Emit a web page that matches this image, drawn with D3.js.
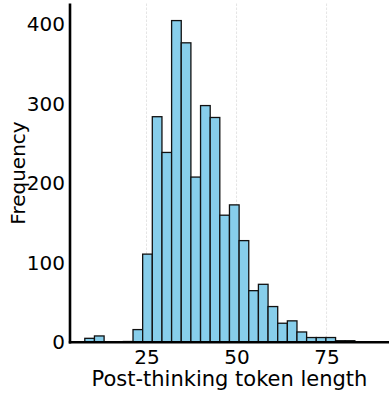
<!DOCTYPE html>
<html>
<head>
<meta charset="utf-8">
<script src="https://cdn.jsdelivr.net/npm/d3@7"></script>
<style>
  html, body { margin: 0; padding: 0; background: #fff; }
  svg { display: block; }
  text { font-family: "DejaVu Sans", sans-serif; fill: #000; }
</style>
</head>
<body>
<svg id="chart" width="389" height="394"></svg>
<script>
// Bin lower edges (token length) and the final upper edge
const binEdges = [7.86, 10.54, 13.22, 15.90, 18.58, 21.25, 23.93, 26.61, 29.29, 31.97,
  34.65, 37.33, 40.01, 42.69, 45.36, 48.04, 50.72, 53.40, 56.08, 58.76,
  61.44, 64.12, 66.79, 69.47, 72.15, 74.83, 77.51, 80.19, 82.87];
// Frequency per bin
const counts = [5, 8, 0, 0, 1, 16, 111, 284, 239, 405, 377, 208, 298, 283, 160,
  173, 128, 65, 73, 45, 24, 27, 13, 6, 6, 6, 2, 2];
const xTicks = [25, 50, 75];
const yTicks = [0, 100, 200, 300, 400];
const xLabel = "Post-thinking token length";
const yLabel = "Frequency";

(function () {
const bins = counts.map((c, i) => ({ x0: binEdges[i], x1: binEdges[i + 1], count: c }));

const svg = d3.select("#chart");
const mLeft = 70, mRight = 389, mTop = 3.5, mBottom = 342.3;

const x = d3.scaleLinear().domain([3.75, 92.35]).range([mLeft, mRight]);
const y = d3.scaleLinear().domain([0, 426.5]).range([mBottom, mTop]);

// vertical grid lines
svg.append("g").selectAll("line").data(xTicks).join("line")
  .attr("x1", d => x(d)).attr("x2", d => x(d))
  .attr("y1", mTop).attr("y2", mBottom)
  .attr("stroke", "#e2e2e2").attr("stroke-width", 0.9)
  .attr("stroke-dasharray", "2.5,1.5");

// bars
svg.append("g").selectAll("rect").data(bins.filter(b => b.count > 0)).join("rect")
  .attr("x", d => x(d.x0))
  .attr("width", d => x(d.x1) - x(d.x0))
  .attr("y", d => y(d.count))
  .attr("height", d => y(0) - y(d.count))
  .attr("fill", "#87CEEB")
  .attr("stroke", "#111")
  .attr("stroke-width", 1.3);

// x axis
const xAxis = svg.append("g").attr("transform", `translate(0,${mBottom})`)
  .call(d3.axisBottom(x).tickValues(xTicks).tickSize(0).tickPadding(5));
xAxis.select(".domain").remove();
xAxis.selectAll("text").style("font-size", "20px").style("font-family", "DejaVu Sans, sans-serif")
  .attr("fill", "#000").attr("dy", "0.85em");

// y axis
const yAxis = svg.append("g").attr("transform", `translate(${mLeft},0)`)
  .call(d3.axisLeft(y).tickValues(yTicks).tickSize(0).tickPadding(5));
yAxis.select(".domain").remove();
yAxis.selectAll("text").style("font-size", "20px").style("font-family", "DejaVu Sans, sans-serif")
  .attr("fill", "#000");

// spines
svg.append("line").attr("x1", mLeft).attr("x2", mLeft).attr("y1", mTop).attr("y2", mBottom + 1.2)
  .attr("stroke", "#000").attr("stroke-width", 2.6);
svg.append("line").attr("x1", mLeft - 1.2).attr("x2", mRight).attr("y1", mBottom).attr("y2", mBottom)
  .attr("stroke", "#000").attr("stroke-width", 2.6);

// axis labels
svg.append("text").attr("x", (mLeft + mRight) / 2).attr("y", 386)
  .attr("text-anchor", "middle").style("font-size", "21px").text(xLabel);
svg.append("text").attr("transform", "translate(25,173) rotate(-90)")
  .attr("text-anchor", "middle").style("font-size", "20px").text(yLabel);
})();
</script>
</body>
</html>
